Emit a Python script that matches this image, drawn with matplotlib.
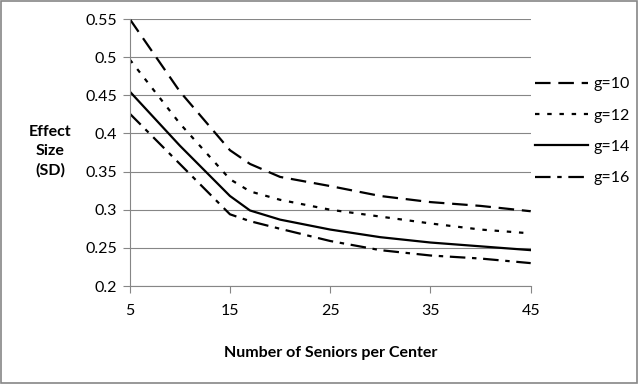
import numpy as np
import matplotlib
matplotlib.use("Agg")
import matplotlib.pyplot as plt

# Data
seniors = [5, 10, 15, 17, 20, 25, 30, 35, 40, 45]
es_g10 = [0.550, 0.455, 0.378, 0.360, 0.343, 0.331, 0.318, 0.310, 0.305, 0.298]
es_g12 = [0.497, 0.413, 0.340, 0.324, 0.313, 0.300, 0.291, 0.282, 0.274, 0.269]
es_g14 = [0.455, 0.384, 0.318, 0.299, 0.287, 0.274, 0.264, 0.257, 0.252, 0.247]
es_g16 = [0.426, 0.360, 0.294, 0.285, 0.275, 0.259, 0.247, 0.240, 0.236, 0.230]
labels = ["g=10", "g=12", "g=14", "g=16"]

plt.rcParams['font.family'] = ['Lato', 'DejaVu Sans']
grey = "#868686"
fs = 11.5

fig = plt.figure(figsize=(6.39, 3.84), dpi=100)
ax = fig.add_axes([0.203, 0.2552, 0.6275, 0.6953])

# border around the whole figure
fig.patches.append(plt.Rectangle((0.002, 0.003), 0.995, 0.994, transform=fig.transFigure,
                                 fill=False, edgecolor=grey, linewidth=1.2))

lw = 1.6
ax.plot(seniors, es_g10, color="black", lw=lw, dashes=(7, 3.5), label=labels[0])
ax.plot(seniors, es_g12, color="black", lw=lw, dashes=(2, 3.5), label=labels[1])
ax.plot(seniors, es_g14, color="black", lw=lw, label=labels[2])
ax.plot(seniors, es_g16, color="black", lw=lw, dashes=(7, 3, 2, 3), label=labels[3])

ax.set_xlim(5, 45)
ax.set_ylim(0.2, 0.55)
ax.set_xticks([5, 15, 25, 35, 45])
ax.set_yticks(np.arange(0.2, 0.551, 0.05))
ax.set_yticklabels(["0.2", "0.25", "0.3", "0.35", "0.4", "0.45", "0.5", "0.55"])
ax.grid(axis="y", color=grey, linewidth=0.8)
ax.set_axisbelow(True)

for s in ["top", "right"]:
    ax.spines[s].set_visible(False)
for s in ["left", "bottom"]:
    ax.spines[s].set_color(grey)
    ax.spines[s].set_linewidth(0.8)
ax.tick_params(axis="both", colors=grey, length=5, width=0.8, labelsize=fs,
               labelcolor="black")
ax.tick_params(axis="x", pad=8)
ax.tick_params(axis="y", pad=4)

ax.set_xlabel("Number of Seniors per Center", fontsize=fs, fontweight="bold", labelpad=20)
fig.text(0.079, 0.605, "Effect\nSize\n(SD)", fontsize=fs, fontweight="bold",
         ha="center", va="center", linespacing=1.45)

ax.legend(loc="upper left", bbox_to_anchor=(0.995, 0.807), frameon=False,
          fontsize=fs, handlelength=3.3, handletextpad=0.35, labelspacing=1.08,
          borderaxespad=0)

fig.savefig("out.png", dpi=100)
